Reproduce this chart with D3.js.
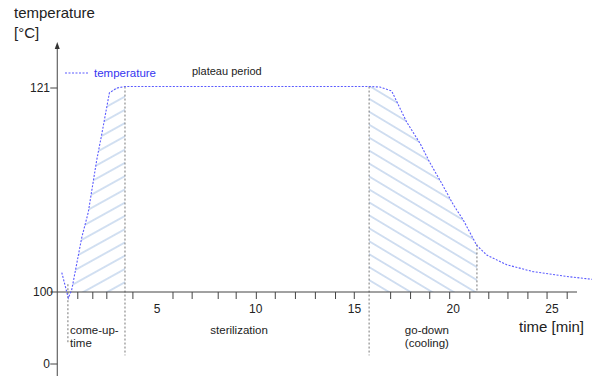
<!DOCTYPE html>
<html>
<head>
<meta charset="utf-8">
<script src="https://cdn.jsdelivr.net/npm/d3@7"></script>
<style>
  body { margin: 0; background: #fff; }
  svg text { font-family: "Liberation Sans", Arial, sans-serif; fill: #222; }
</style>
</head>
<body>
<svg id="chart" width="592" height="376"></svg>
<script>
// temperature curve: time [min], temperature [°C]
var curveTime = [0.23, 0.56, 0.73, 1.24, 1.57, 2.0, 2.25, 2.64, 3.01, 3.43,
                 15.84, 16.34, 16.93, 17.69, 18.37, 18.87, 19.38, 20.05, 20.56,
                 21.24, 21.75, 22.76, 24.09, 25.8, 27.1];
var curveTemp = [102.0, 91.5, 100.2, 105.6, 108.2, 113.6, 116.2, 120.5, 121.0, 121.15,
                 121.15, 121.1, 120.7, 117.5, 115.3, 113.3, 111.5, 109.0, 107.4,
                 104.8, 103.8, 102.8, 102.1, 101.6, 101.3];

// phase boundaries (dotted gray verticals) [time, top temp, bottom temp]
var phaseLines = [[0.54, 100.8, 30], [3.43, 121.15, 12], [15.79, 121.15, 12], [21.25, 104.9, 100]];

// hatched areas [from, to, angle, spacing]
var hatchZones = [[0.7, 3.43, -29, 11.6], [15.79, 21.25, 31, 11.1]];

// x axis minor ticks (as drawn, slightly irregular) and labels
var xTicks = [1.04, 1.8, 2.51, 3.83, 5.86, 6.83, 8.15, 9.06, 10.08, 11.04, 12.06, 13.07,
              14.09, 15.04, 16.88, 17.89, 18.86, 19.87, 20.89, 21.85, 22.82, 23.83, 24.8, 25.82];
var xLabels = [5, 10, 15, 20, 25];
var yLabels = [0, 100, 121];

// phase labels: [text lines, time]
var phaseText = [
  [["come-up-", "time"], 0.65],
  [["sterilization"], 7.75],
  [["go-down", "(cooling)"], 17.6]
];

var svg = d3.select("#chart");

var x = d3.scaleLinear().domain([0, 25]).range([57.25, 551]);
// broken axis: 0..100 squeezed, 100..121 stretched
var y = d3.scaleLinear().domain([0, 100, 121]).range([364, 292, 88]);

var pts = curveTime.map(function(t, i) { return [t, curveTemp[i]]; });

var defs = svg.append("defs");

//hatch patterns + clip rects
hatchZones.forEach(function(z, i) {
  var p = defs.append("pattern")
    .attr("id", "hatch" + i)
    .attr("patternUnits", "userSpaceOnUse")
    .attr("width", 10).attr("height", z[3])
    .attr("patternTransform", "rotate(" + z[2] + ")");
  p.append("line")
    .attr("x1", 0).attr("x2", 10)
    .attr("y1", z[3] / 2).attr("y2", z[3] / 2)
    .attr("stroke", "#a6c0e3")
    .attr("stroke-width", 1);
  defs.append("clipPath").attr("id", "clip" + i)
    .append("rect")
    .attr("x", x(z[0])).attr("width", x(z[1]) - x(z[0]))
    .attr("y", 0).attr("height", y(100));
});

var area = d3.area()
  .x(function(d) { return x(d[0]); })
  .y0(y(100))
  .y1(function(d) { return y(d[1]); });

hatchZones.forEach(function(z, i) {
  svg.append("path")
    .datum(pts)
    .attr("d", area)
    .attr("fill", "url(#hatch" + i + ")")
    .attr("clip-path", "url(#clip" + i + ")");
});

//dotted phase boundaries
phaseLines.forEach(function(l) {
  svg.append("line")
    .attr("x1", x(l[0])).attr("x2", x(l[0]))
    .attr("y1", y(l[1])).attr("y2", y(l[2]))
    .attr("stroke", "#777")
    .attr("stroke-width", 1)
    .attr("stroke-dasharray", "2,2");
});

// x axis
svg.append("line")
  .attr("x1", x(0)).attr("x2", 577)
  .attr("y1", y(100)).attr("y2", y(100))
  .attr("stroke", "#444");

svg.selectAll(".xtick")
  .data(xTicks)
  .enter().append("line")
  .attr("class", "xtick")
  .attr("x1", function(d) { return x(d); })
  .attr("x2", function(d) { return x(d); })
  .attr("y1", y(100)).attr("y2", y(100) + 7)
  .attr("stroke", "#444");

svg.selectAll(".xlab")
  .data(xLabels)
  .enter().append("text")
  .attr("class", "xlab")
  .attr("x", function(d) { return x(d) + 1; })
  .attr("y", 313)
  .attr("text-anchor", "middle")
  .attr("font-size", "12px")
  .text(function(d) { return d; });

// y axis with arrow
svg.append("line")
  .attr("x1", x(0)).attr("x2", x(0))
  .attr("y1", 376).attr("y2", 46)
  .attr("stroke", "#444");
svg.append("path")
  .attr("d", "M" + x(0) + ",42 l-2.5,7 h5 z")
  .attr("fill", "#333");

svg.selectAll(".ytick")
  .data(yLabels)
  .enter().append("line")
  .attr("class", "ytick")
  .attr("x1", x(0) - 7).attr("x2", x(0))
  .attr("y1", function(d) { return y(d); })
  .attr("y2", function(d) { return y(d); })
  .attr("stroke", "#444");

svg.selectAll(".ylab")
  .data(yLabels)
  .enter().append("text")
  .attr("class", "ylab")
  .attr("x", function(d) { return d == 100 ? 53 : 50; })
  .attr("y", function(d) { return y(d) + 4; })
  .attr("text-anchor", "end")
  .attr("font-size", "12px")
  .text(function(d) { return d; });

// temperature curve
var line = d3.line()
  .x(function(d) { return x(d[0]); })
  .y(function(d) { return y(d[1]); });

svg.append("path")
  .datum(pts)
  .attr("d", line)
  .attr("fill", "none")
  .attr("stroke", "#5b5bff")
  .attr("stroke-width", 1.1)
  .attr("stroke-dasharray", "2,1.5");

// legend
svg.append("line")
  .attr("x1", 65).attr("x2", 88)
  .attr("y1", 73).attr("y2", 73)
  .attr("stroke", "#5b5bff")
  .attr("stroke-dasharray", "2,1.5");
svg.append("text")
  .attr("x", 94).attr("y", 77)
  .attr("font-size", "11.5px")
  .style("fill", "#3535f0")
  .text("temperature");

svg.append("text")
  .attr("x", 192).attr("y", 75)
  .attr("font-size", "11px")
  .text("plateau period");

// axis titles
svg.append("text").attr("x", 14).attr("y", 18).attr("font-size", "15px").text("temperature");
svg.append("text").attr("x", 14).attr("y", 38).attr("font-size", "15px").text("[°C]");
svg.append("text").attr("x", 519).attr("y", 332).attr("font-size", "15px").text("time [min]");

// phase labels
phaseText.forEach(function(p) {
  p[0].forEach(function(s, j) {
    svg.append("text")
      .attr("x", x(p[1]))
      .attr("y", 334 + j * 13)
      .attr("font-size", "11.5px")
      .text(s);
  });
});
</script>
</body>
</html>
